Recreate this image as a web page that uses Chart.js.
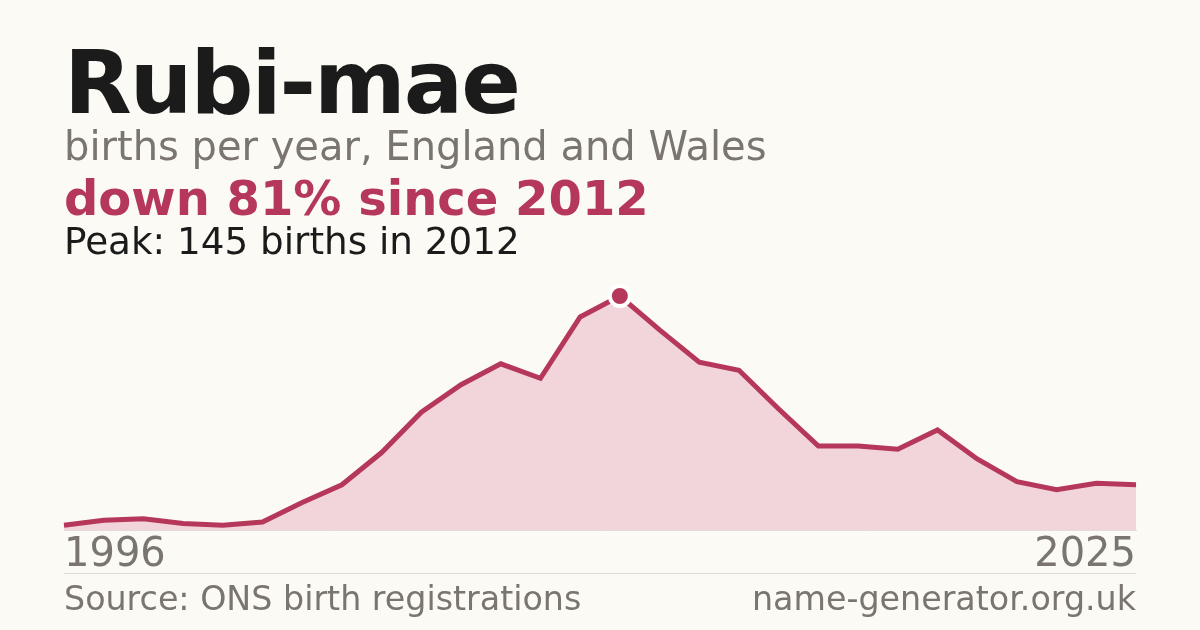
<!DOCTYPE html>
<html>
<head>
<meta charset="utf-8">
<script src="https://cdn.jsdelivr.net/npm/chart.js@4.4.1/dist/chart.umd.min.js"></script>
<style>
  html, body { margin: 0; padding: 0; background: #fbfaf5; }
  #wrap { position: relative; width: 1200px; height: 630px; overflow: hidden; background: #fbfaf5; font-family: "DejaVu Sans", sans-serif; }
  #c { position: absolute; left: 0; top: 0; }
  .t { position: absolute; left: 64px; margin: 0; line-height: 1; white-space: nowrap; }
  #title { top: 38.6px; font-size: 88px; font-weight: bold; color: #1b1b1b; letter-spacing: -2px; }
  #sub { top: 126.2px; font-size: 40px; color: #7a756e; }
  #trend { top: 174.4px; font-size: 48px; font-weight: bold; color: #b5385a; }
  #peak { top: 222.5px; font-size: 37.3px; color: #1b1b1b; }
  #sep { position: absolute; left: 64px; top: 573px; width: 1072px; height: 1px; background: #dedad4; }
  .foot { position: absolute; top: 581.8px; margin: 0; line-height: 1; font-size: 33.3px; color: #7a756e; white-space: nowrap; }
  #src { left: 64px; }
  #site { right: 64px; text-align: right; }
</style>
</head>
<body>
<div id="wrap">
  <canvas id="c" width="1200" height="630"></canvas>
  <div class="t" id="title">Rubi-mae</div>
  <div class="t" id="sub">births per year, England and Wales</div>
  <div class="t" id="trend">down 81% since 2012</div>
  <div class="t" id="peak">Peak: 145 births in 2012</div>
  <div id="sep"></div>
  <div class="foot" id="src">Source: ONS birth registrations</div>
  <div class="foot" id="site">name-generator.org.uk</div>
</div>
<script>
const years = ["1996","1999","2000","2001","2002","2003","2004","2005","2006","2007","2008","2009","2010","2011","2012","2013","2014","2015","2016","2017","2018","2019","2020","2021","2022","2023","2024","2025"];
const births = [3, 6, 7, 4, 3, 5, 17, 28, 48, 73, 90, 103, 94, 132, 145, 124, 104, 99, 75, 52, 52, 50, 62, 44, 30, 25, 29, 28];
const tickLabels = ["1996", "2025"];

const lineColor = "#b5385a";
const fillColor = "#f2d5db";
const greyText = "#7a756e";
const peakIdx = births.indexOf(Math.max(...births));

new Chart(document.getElementById("c"), {
  type: "line",
  data: {
    labels: years,
    datasets: [{
      data: births,
      borderColor: lineColor,
      borderWidth: 5,
      backgroundColor: fillColor,
      fill: "origin",
      tension: 0,
      clip: false,
      borderCapStyle: "butt",
      borderJoinStyle: "miter",
      pointRadius: ctx => ctx.dataIndex === peakIdx ? 10 : 0,
      pointHoverRadius: 0,
      pointBackgroundColor: lineColor,
      pointBorderColor: "#ffffff",
      pointBorderWidth: 4
    }]
  },
  options: {
    responsive: false,
    animation: false,
    events: [],
    layout: { padding: { left: 64, right: 64, top: 296, bottom: 56 } },
    plugins: { legend: { display: false }, tooltip: { enabled: false }, title: { display: false } },
    scales: {
      x: {
        offset: false,
        grid: { display: false, drawTicks: false },
        border: { display: true, color: "#e2ddd8", width: 1 },
        afterFit: s => { s.height = 44; },
        ticks: {
          autoSkip: false,
          maxRotation: 0,
          minRotation: 0,
          align: "inner",
          padding: 2,
          color: greyText,
          font: { family: "DejaVu Sans", size: 40 },
          callback: (v, i) => i === 0 ? tickLabels[0] : (i === years.length - 1 ? tickLabels[1] : "")
        }
      },
      y: { display: false, min: 0, max: 145 }
    }
  }
});
</script>
</body>
</html>
